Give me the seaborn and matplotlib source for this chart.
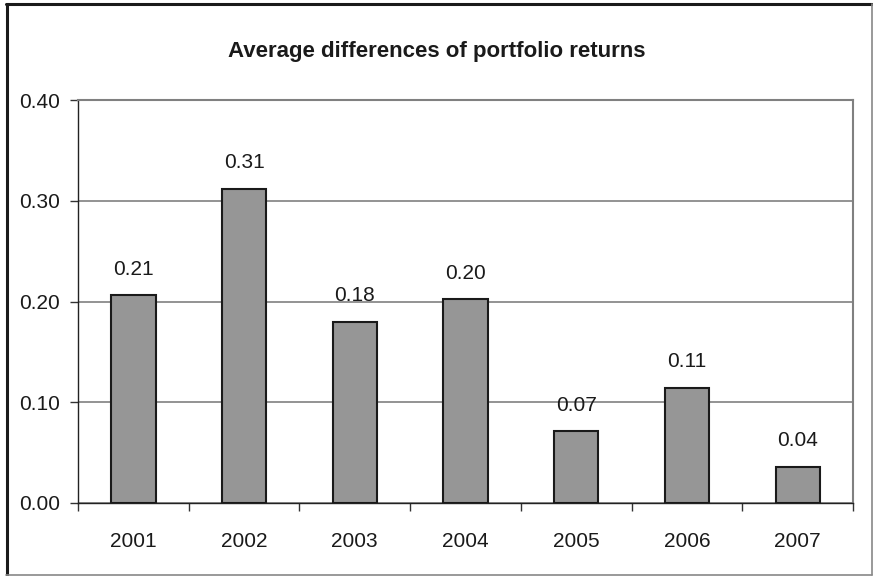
import matplotlib
matplotlib.use("Agg")
import matplotlib.pyplot as plt
import seaborn as sns
import pandas as pd
from matplotlib.ticker import FixedLocator

years = ["2001", "2002", "2003", "2004", "2005", "2006", "2007"]
values = [0.206, 0.312, 0.180, 0.202, 0.071, 0.114, 0.036]
labels = ["0.21", "0.31", "0.18", "0.20", "0.07", "0.11", "0.04"]
yticks = [0.0, 0.1, 0.2, 0.3, 0.4]
title = "Average differences of portfolio returns"

sns.set_theme(style="white")
plt.rcParams["font.family"] = ["Liberation Sans", "DejaVu Sans"]

df = pd.DataFrame({"year": years, "value": values})

fig = plt.figure(figsize=(8.73, 5.76), dpi=100)
ax = fig.add_axes([78 / 873, 1 - 503 / 576, (853 - 78) / 873, (503 - 100) / 576])

sns.barplot(data=df, x="year", y="value", color="#969696", width=0.4,
            edgecolor="#1a1a1a", linewidth=1.5, saturation=1, ax=ax, zorder=3)

ax.set_ylim(0, 0.40)
ax.set_xlim(-0.5, len(years) - 0.5)
ax.set_yticks(yticks)
ax.set_yticklabels([f"{t:.2f}" for t in yticks], fontsize=15)
ax.tick_params(axis="y", length=6, width=1, color="#333333", pad=7, left=True)
ax.tick_params(axis="x", which="major", length=0, pad=21, labelsize=15)
ax.xaxis.set_minor_locator(FixedLocator([i - 0.5 for i in range(len(years) + 1)]))
ax.tick_params(axis="x", which="minor", length=6, width=1, color="#333333", bottom=True)
for lab in ax.get_xticklabels() + ax.get_yticklabels():
    lab.set_color("#1a1a1a")

ax.yaxis.grid(True, color="#808080", linewidth=1.2, zorder=0)
ax.set_axisbelow(True)
ax.set_xlabel("")
ax.set_ylabel("")

for side in ["left", "bottom"]:
    ax.spines[side].set_color("#222222")
    ax.spines[side].set_linewidth(1.0)
for side in ["top", "right"]:
    ax.spines[side].set_color("#808080")
    ax.spines[side].set_linewidth(1.5)
    ax.spines[side].set_visible(True)

for i, (v, lab) in enumerate(zip(values, labels)):
    ax.annotate(lab, (i, v), xytext=(0, 19), textcoords="offset points",
                ha="center", va="center", fontsize=15, color="#1a1a1a")

fig.text(436.5 / 873, 1 - 51 / 576, title, ha="center", va="center",
         fontsize=16, fontweight="bold", color="#1a1a1a")

# outer frame: thick dark left/top, thin gray right/bottom
fig.add_artist(plt.Line2D([6.5 / 873, 6.5 / 873], [1 - 4 / 576, 1 - 575 / 576],
                          transform=fig.transFigure, color="#1a1a1a", linewidth=2.2))
fig.add_artist(plt.Line2D([6 / 873, 872 / 873], [1 - 4 / 576, 1 - 4 / 576],
                          transform=fig.transFigure, color="#1a1a1a", linewidth=2.2))
fig.add_artist(plt.Line2D([871.5 / 873, 871.5 / 873], [1 - 4 / 576, 1 - 575 / 576],
                          transform=fig.transFigure, color="#888888", linewidth=1.2))
fig.add_artist(plt.Line2D([6 / 873, 872 / 873], [1 - 575 / 576, 1 - 575 / 576],
                          transform=fig.transFigure, color="#888888", linewidth=1.2))

fig.savefig("out.png", dpi=100)
